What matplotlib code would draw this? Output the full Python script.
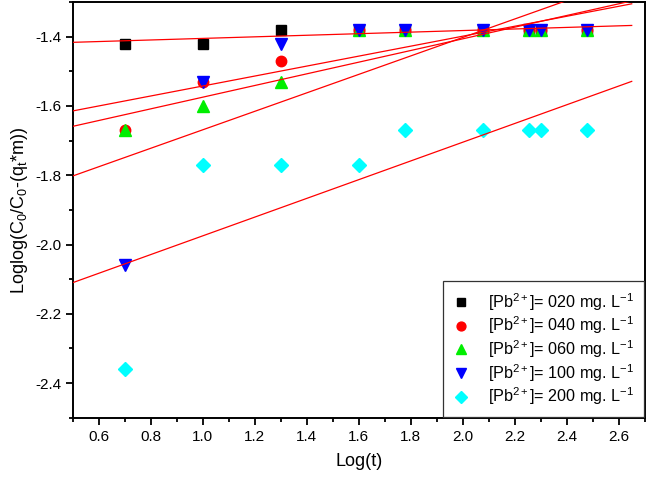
import matplotlib.pyplot as plt
import numpy as np

plt.rcParams["font.family"] = ["Liberation Sans", "DejaVu Sans"]
plt.rcParams["mathtext.fontset"] = "custom"
plt.rcParams["mathtext.rm"] = "Liberation Sans"
plt.rcParams["mathtext.it"] = "Liberation Sans"

# log(t) for t = 5, 10, 20, 40, 60, 120, 180, 200, 300 min
log_t = [0.699, 1.0, 1.301, 1.602, 1.778, 2.079, 2.255, 2.301, 2.477]

pb_020 = [-1.42, -1.42, -1.38, -1.38, -1.38, -1.38, -1.38, -1.38, -1.38]
pb_040 = [-1.67, -1.53, -1.47, -1.38, -1.38, -1.38, -1.38, -1.38, -1.38]
pb_060 = [-1.67, -1.60, -1.53, -1.38, -1.38, -1.38, -1.38, -1.38, -1.38]
pb_100 = [-2.06, -1.53, -1.42, -1.38, -1.38, -1.38, -1.38, -1.38, -1.38]
pb_200 = [-2.36, -1.77, -1.77, -1.77, -1.67, -1.67, -1.67, -1.67, -1.67]

labels = ["020", "040", "060", "100", "200"]
series = [pb_020, pb_040, pb_060, pb_100, pb_200]
colors = ["black", "red", "#00ee00", "blue", "cyan"]
markers = ["s", "o", "^", "v", "D"]
sizes = [7, 7.5, 8, 8, 7]

fig = plt.figure(figsize=(6.46, 4.83), dpi=100)
ax = fig.add_axes([0.113, 0.135, 0.885, 0.861])

x = np.array(log_t)
xfit = np.array([0.45, 2.65])
for y in series:
    k, b = np.polyfit(x, np.array(y), 1)
    ax.plot(xfit, k * xfit + b, color="red", lw=0.9, zorder=3)

for y, lab, c, m, s in zip(series, labels, colors, markers, sizes):
    ax.plot(x, y, ls="none", marker=m, color=c, markersize=s, zorder=2,
            label="[Pb$^{2+}$]= " + lab + " mg. L$^{-1}$")

ax.set_xlim(0.5, 2.7)
ax.set_ylim(-2.5, -1.3)
ax.set_xticks(np.arange(0.6, 2.61, 0.2))
ax.set_xticks(np.arange(0.5, 2.71, 0.1), minor=True)
ax.set_yticks(np.arange(-2.4, -1.39, 0.2))
ax.set_yticks(np.arange(-2.5, -1.29, 0.1), minor=True)
ax.xaxis.set_major_formatter(plt.FormatStrFormatter("%.1f"))
ax.yaxis.set_major_formatter(plt.FormatStrFormatter("%.1f"))
ax.tick_params(which="both", direction="out", top=False, right=False,
               width=1.3, labelsize=11)
ax.tick_params(which="major", length=5)
ax.tick_params(which="minor", length=3)
for sp in ax.spines.values():
    sp.set_linewidth(1.4)

ax.set_xlabel("Log(t)", fontsize=13, labelpad=7)
ax.set_ylabel("Loglog(C$_0$/C$_0$-(q$_t$*m))", fontsize=13, labelpad=4)

leg = ax.legend(loc="lower right", fontsize=11.6, handlelength=1.0,
                handletextpad=1.2, borderpad=0.6, labelspacing=0.12,
                markerscale=0.85, fancybox=False, framealpha=1,
                borderaxespad=0.05)
leg.get_frame().set_edgecolor("#333333")
leg.get_frame().set_linewidth(0.9)

plt.savefig("out.png", dpi=100)
